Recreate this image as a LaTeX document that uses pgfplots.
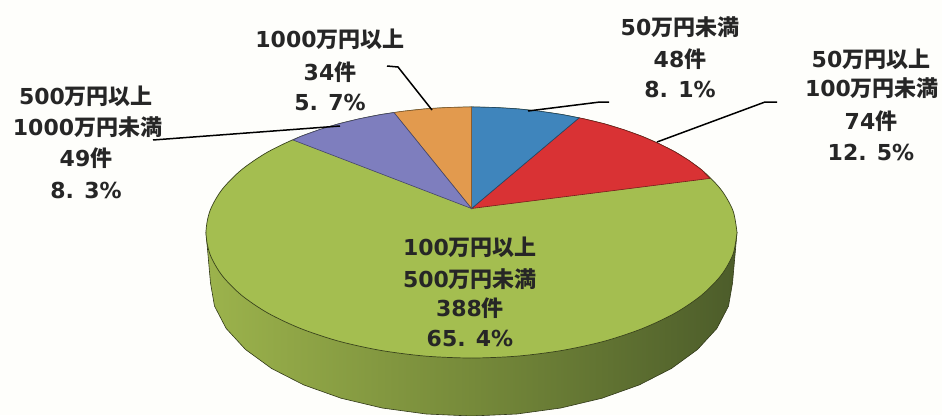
\documentclass[border=0pt]{standalone}
\usepackage{fontspec}
\usepackage{pgfplots}
\pgfplotsset{compat=1.18}
\setmainfont{Noto Sans CJK JP}
\newfontfamily\dg{DejaVu Sans}
\definecolor{cgreen}{HTML}{A4BE50}
\definecolor{cblue}{HTML}{3F85BC}
\definecolor{cred}{HTML}{D93234}
\definecolor{cpurple}{HTML}{7E7EBE}
\definecolor{corange}{HTML}{E29A4E}
\definecolor{cbg}{HTML}{FEFEFB}
\definecolor{sideL}{HTML}{9CB34C}
\definecolor{sideM}{HTML}{768A3A}
\definecolor{sideR}{HTML}{4C5C2A}
\newcommand{\lab}[3]{\node[anchor=center,inner sep=0pt,font=\fontsize{22}{24}\selectfont\bfseries,text=black!85] at (axis cs:#1,#2) {#3};}
\begin{document}
\begin{tikzpicture}
\begin{axis}[
  scale only axis, width=942pt, height=415pt,
  xmin=0, xmax=942, ymin=0, ymax=415, y dir=reverse,
  hide axis, clip=true,
]
\fill[cbg] (axis cs:0,0) rectangle (axis cs:942,415);
% side of the pie
\addplot[draw=black!70!cgreen, line width=0.6pt, left color=sideL, right color=sideR, middle color=sideM] coordinates {
 (206,232.5) (210.5,283) (214.5,306.1) (226.2,328.5) (245.5,349.5) (271.6,368.5) (303.7,384.9)
 (341.0,398.2) (382.2,408) (426.2,414) (471.5,416) (516.8,414) (560.8,408) (602.0,398.2)
 (639.3,384.9) (671.4,368.5) (697.5,349.5) (716.8,328.5) (728.5,306.1) (732.5,283) (737,232.5)
} -- cycle;
% green: whole top face
\addplot[smooth, fill=cgreen, draw=black!65!cgreen, line width=0.7pt] coordinates {
 (737,232.5) (733,254.3) (721,275.4) (701.4,295.3) (674.9,313.2) (642.2,328.6) (604.3,341.2)
 (562.3,350.4) (517.6,356.1) (471.5,358) (425.4,356.1) (380.7,350.4) (338.8,341.2) (300.8,328.6)
 (268.1,313.2) (241.6,295.3) (222,275.4) (210,254.3) (206,232.5) (210,210.7) (222,189.6)
 (241.6,169.7) (268.1,151.8) (300.8,136.4) (338.8,123.8) (380.7,114.6) (425.4,108.9) (471.5,107)
 (517.6,108.9) (562.3,114.6) (604.3,123.8) (642.2,136.4) (674.9,151.8) (701.4,169.7) (721,189.6)
 (733,210.7) (737,232.5)
};
% red
\addplot[fill=cred, draw=black!45!cred, line width=0.6pt] coordinates {
 (471.5,208.5) (579,117.9) (583.7,118.8) (604.3,123.8) (623.8,129.7) (642.2,136.4) (659.2,143.8)
 (674.9,151.8) (689,160.5) (701.4,169.7) (710,178.4)
} -- cycle;
% blue
\addplot[fill=cblue, draw=black!45!cblue, line width=0.6pt] coordinates {
 (471.5,208.5) (471.5,107) (494.6,107.5) (517.6,108.9) (540.2,111.3) (562.3,114.6) (579,117.9)
} -- cycle;
% orange
\addplot[fill=corange, draw=black!40!corange, line width=0.6pt] coordinates {
 (471.5,208.5) (394,112.6) (402.8,111.3) (425.4,108.9) (448.4,107.5) (471.5,107)
} -- cycle;
% purple
\addplot[fill=cpurple, draw=black!45!cpurple, line width=0.6pt] coordinates {
 (471.5,208.5) (293,140) (300.8,136.4) (319.2,129.7) (338.8,123.8) (359.3,118.8) (380.7,114.6) (394,112.6)
} -- cycle;
% leader lines
\addplot[black, line width=1.5pt] coordinates {(387,66) (398,67) (432,110)};
\addplot[black, line width=1.5pt] coordinates {(153,140) (340,126)};
\addplot[black, line width=1.5pt] coordinates {(528,111) (600,102) (609,102)};
\addplot[black, line width=1.5pt] coordinates {(657,142) (765,102) (777,102)};
% labels
\lab{330}{39}{{\dg 1000}万円以上}
\lab{330}{72}{{\dg 34}件}
\lab{330}{102}{{\dg 5. 7\%}}
\lab{86}{96}{{\dg 500}万円以上}
\lab{87.5}{127}{{\dg 1000}万円未満}
\lab{86}{158}{{\dg 49}件}
\lab{86}{190}{{\dg 8. 3\%}}
\lab{680}{27}{{\dg 50}万円未満}
\lab{680}{59}{{\dg 48}件}
\lab{680}{89}{{\dg 8. 1\%}}
\lab{871}{59}{{\dg 50}万円以上}
\lab{872}{88}{{\dg 100}万円未満}
\lab{871}{121}{{\dg 74}件}
\lab{871}{152}{{\dg 12. 5\%}}
\lab{470}{247}{{\dg 100}万円以上}
\lab{470}{279}{{\dg 500}万円未満}
\lab{470}{308}{{\dg 388}件}
\lab{470}{338}{{\dg 65. 4\%}}
\end{axis}
\end{tikzpicture}
\end{document}
